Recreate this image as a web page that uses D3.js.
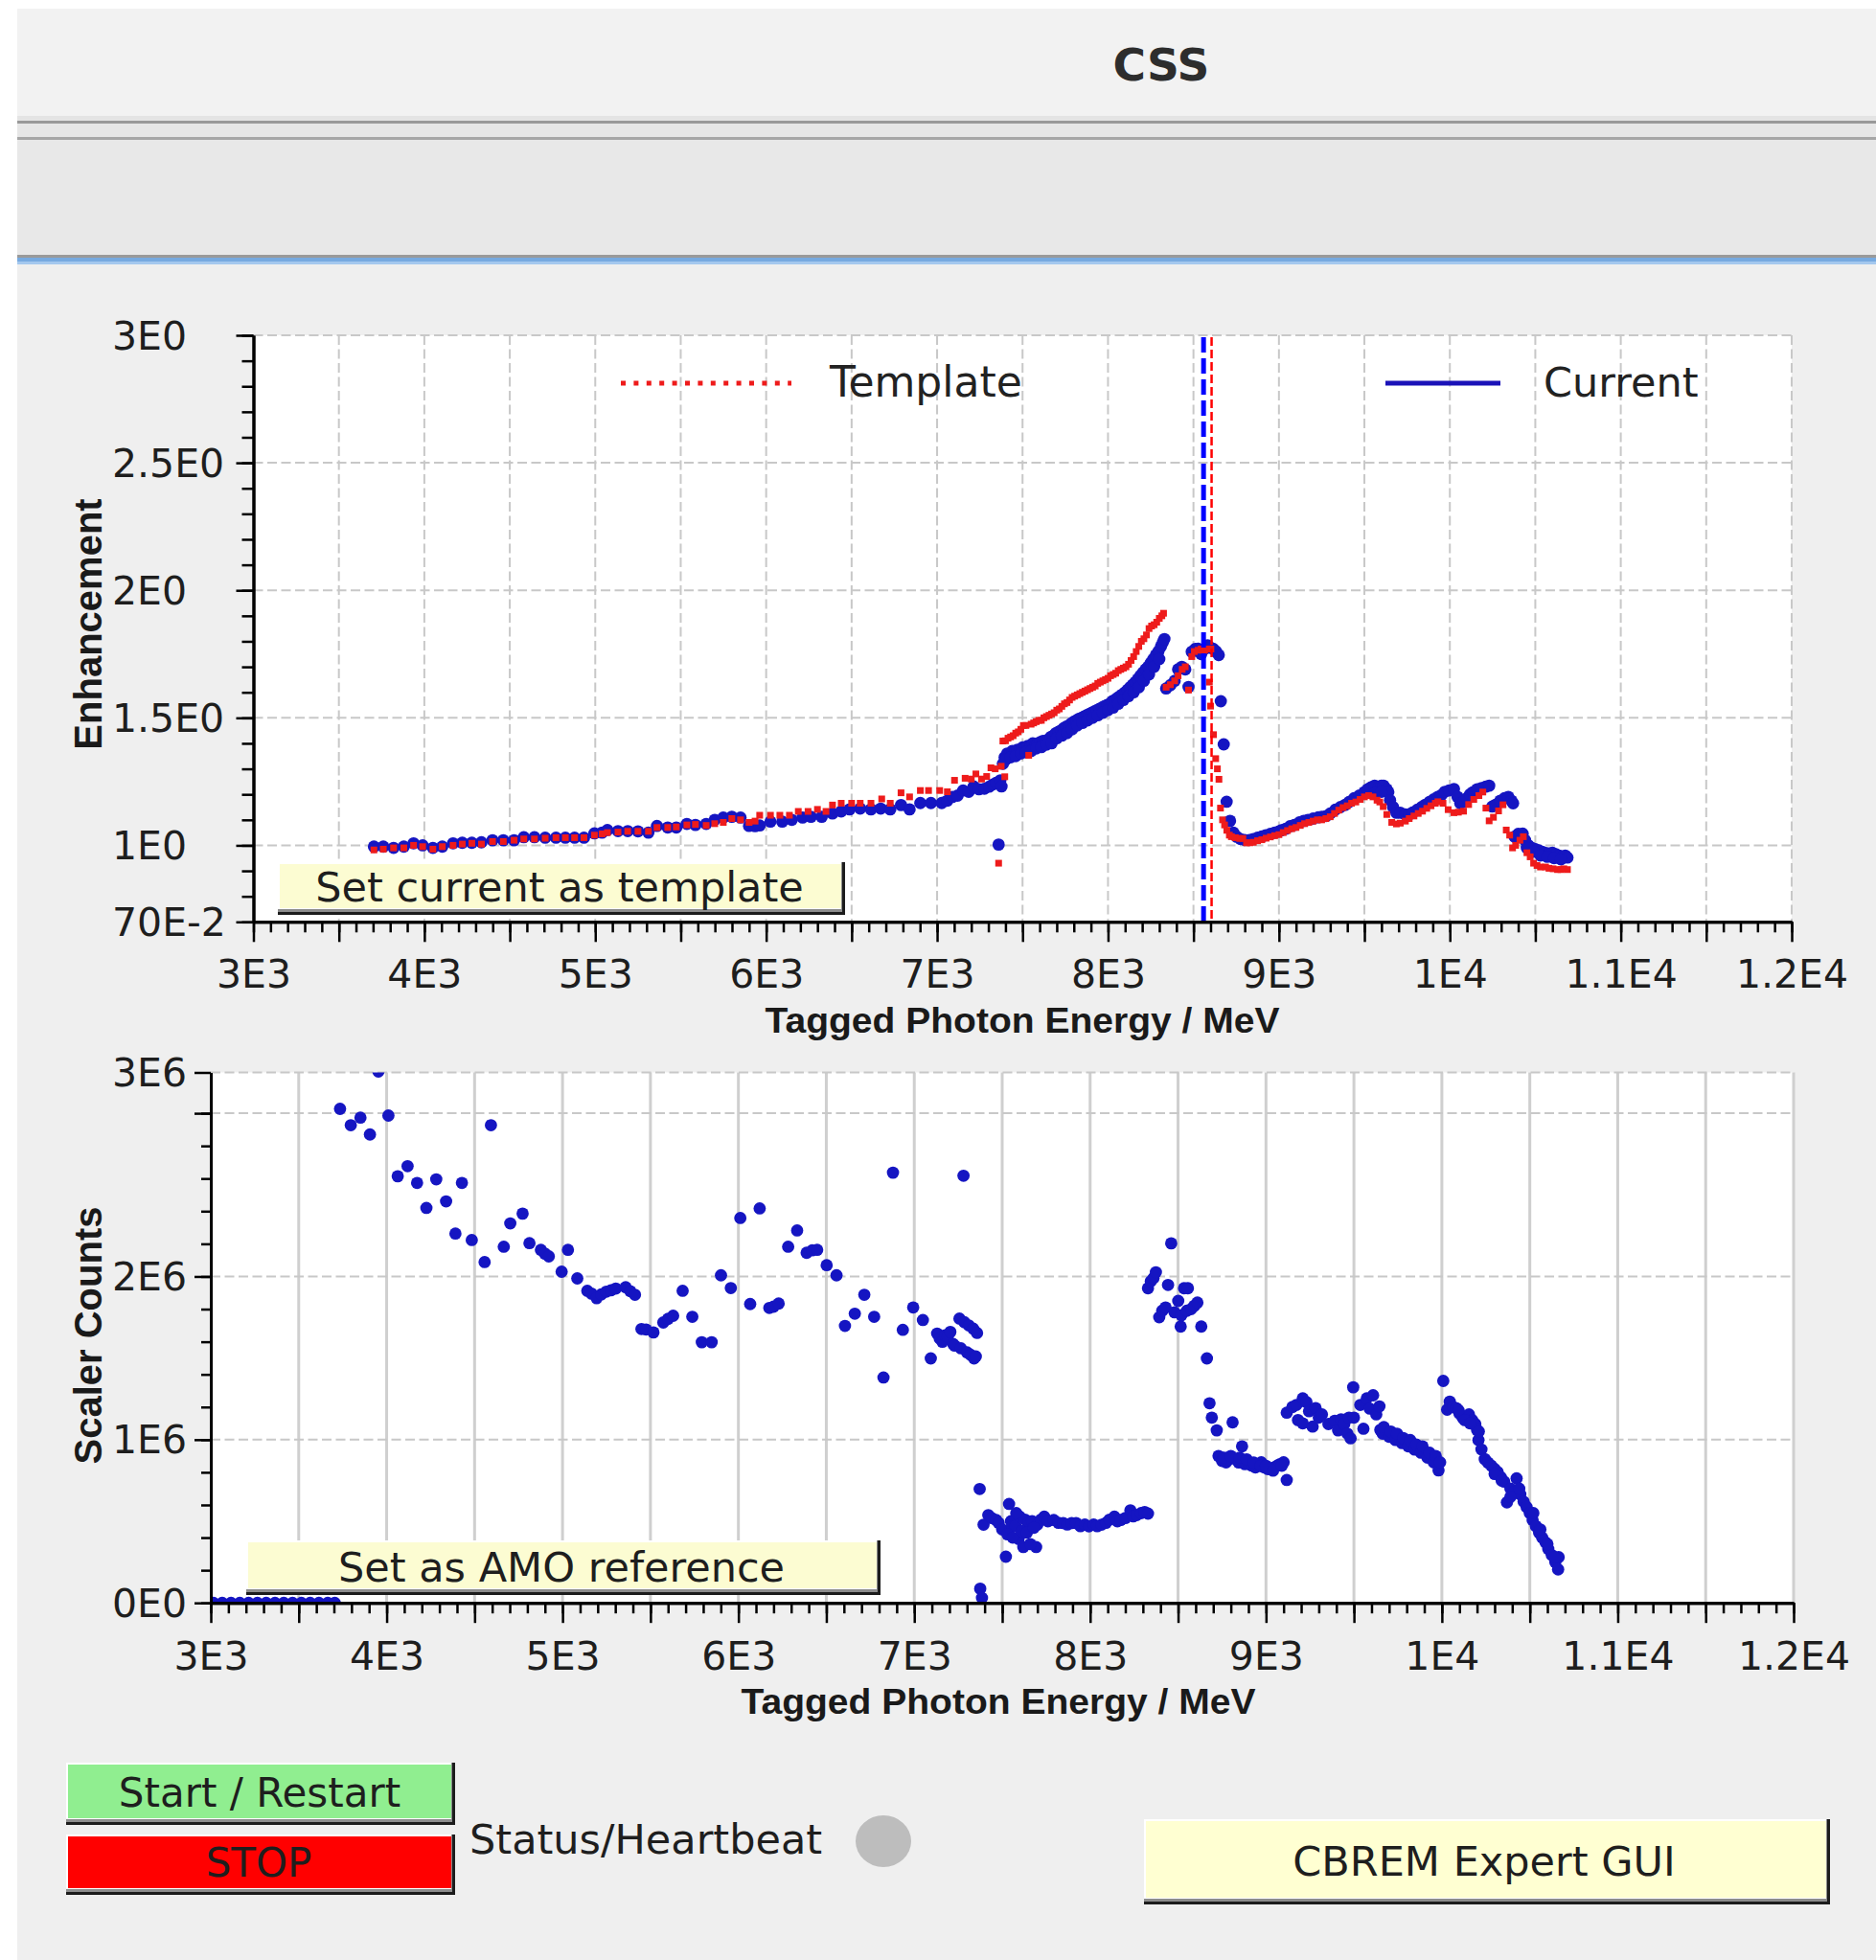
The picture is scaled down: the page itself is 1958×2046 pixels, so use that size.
<!DOCTYPE html>
<html><head><meta charset="utf-8">
<script src="https://cdn.jsdelivr.net/npm/d3@7"></script>
<style>
html,body{margin:0;padding:0;background:#efefef;}
svg{display:block;}
</style></head>
<body>
<svg id="c" width="1958" height="2046"></svg>
<script>
// ---------------- DATA ----------------
const xMajorTicks = [3000,3500,4000,4500,5000,5500,6000,6500,7000,7500,8000,8500,9000,9500,10000,10500,11000,11500,12000];
const xTickLabels = {3000:"3E3",4000:"4E3",5000:"5E3",6000:"6E3",7000:"7E3",8000:"8E3",9000:"9E3",10000:"1E4",11000:"1.1E4",12000:"1.2E4"};
const enhTicks = [0.7,1,1.5,2,2.5,3];
const enhTickLabels = ["70E-2","1E0","1.5E0","2E0","2.5E0","3E0"];
const enhGrid = [1,1.5,2,2.5,3];
const cntTicks = [0,1e6,2e6,3e6,3.25e6];
const cntTickLabels = ["0E0","1E6","2E6","","3E6"];
const cntGrid = [1e6,2e6,3e6,3.25e6];
const currentEdge = 8559;   // blue dashed vertical
const templateEdge = 8606;  // red dashed vertical

// Enhancement, current (blue) : [energy MeV, enhancement]
const currentPts = [
[3705,0.995],[3760,0.995],[3820,0.99],[3880,0.995],[3937,1.008],[3990,1.0],[4050,0.99],[4105,0.995],[4168,1.008],[4222,1.01],[4278,1.01],[4334,1.012],[4399,1.02],[4462,1.02],[4525,1.02],[4582,1.032],[4644,1.032],[4707,1.03],[4770,1.03],[4825,1.03],[4879,1.03],[4934,1.03],[4995,1.047],[5040,1.05],[5071,1.06],[5133,1.056],[5190,1.056],[5250,1.055],[5311,1.05],[5361,1.076],[5424,1.07],[5474,1.07],[5536,1.084],[5586,1.08],[5649,1.084],[5699,1.1],[5749,1.109],[5799,1.112],[5850,1.109],[5900,1.076],[5935,1.075],[5962,1.078],[6025,1.093],[6094,1.093],[6150,1.1],[6213,1.109],[6262,1.112],[6325,1.112],[6388,1.125],[6439,1.133],[6488,1.141],[6550,1.144],[6613,1.141],[6670,1.144],[6726,1.141],[6789,1.158],[6839,1.141],[6902,1.166],[6964,1.166],[7027,1.166],[7060,1.175],[7090,1.19],[7120,1.195],[7152,1.215],[7185,1.21],[7214,1.231],[7245,1.22],[7277,1.222],[7305,1.23],[7328,1.239],[7345,1.245],[7360,1.003],[7370,1.255],[7377,1.231],
[7385,1.32],[7395,1.345],[7410,1.36],[7425,1.355],[7440,1.37],[7455,1.365],[7470,1.375],[7485,1.37],[7500,1.384],[7515,1.38],[7530,1.39],[7545,1.385],[7560,1.40],[7575,1.39],[7590,1.40],[7605,1.405],[7620,1.41],[7635,1.405],[7650,1.415],[7665,1.425],[7680,1.43],[7695,1.44],[7710,1.445],[7725,1.45],[7740,1.459],[7755,1.465],[7770,1.47],[7785,1.478],[7800,1.485],[7815,1.49],[7830,1.496],[7845,1.50],[7860,1.505],[7875,1.51],[7890,1.515],[7905,1.52],[7920,1.525],[7935,1.53],[7950,1.535],[7965,1.54],[7980,1.546],[7995,1.55],[8010,1.555],[8025,1.565],[8040,1.57],[8055,1.578],[8070,1.585],[8085,1.592],[8100,1.60],[8115,1.61],[8130,1.62],[8145,1.63],[8160,1.64],[8175,1.652],[8190,1.665],[8205,1.678],[8220,1.69],[8235,1.70],[8250,1.715],[8265,1.73],[8280,1.746],[8295,1.76],[8310,1.78],[8320,1.795],[8330,1.809],
[7400,1.335],[7430,1.345],[7460,1.35],[7490,1.36],[7520,1.365],[7550,1.37],[7580,1.38],[7610,1.385],[7640,1.395],[7670,1.40],[7700,1.42],[7730,1.43],[7760,1.44],[7790,1.455],[7820,1.47],[7850,1.48],[7880,1.49],[7910,1.50],[7940,1.51],[7970,1.52],[8000,1.53],[8030,1.54],[8060,1.555],[8090,1.57],[8120,1.585],[8150,1.60],[8180,1.62],[8210,1.645],[8240,1.67],[8270,1.70],[8300,1.73],
[8340,1.615],[8365,1.628],[8390,1.645],[8410,1.69],[8432,1.70],[8452,1.69],[8471,1.621],[8490,1.759],[8510,1.77],[8527,1.771],[8545,1.75],[8565,1.77],[8583,1.784],[8600,1.775],[8617,1.77],[8632,1.76],[8648,1.746],[8660,1.565],[8677,1.396],[8694,1.171],[8714,1.096],[8733,1.05],[8752,1.034],
[8775,1.025],[8800,1.021],[8827,1.021],[8850,1.025],[8875,1.03],[8900,1.035],[8923,1.04],[8950,1.045],[8975,1.05],[9000,1.055],[9014,1.059],[9040,1.065],[9065,1.075],[9090,1.08],[9120,1.09],[9145,1.096],[9170,1.10],[9200,1.105],[9230,1.11],[9250,1.112],[9276,1.115],[9300,1.125],[9330,1.14],[9360,1.15],[9388,1.159],[9410,1.17],[9440,1.185],[9470,1.195],[9500,1.209],[9520,1.22],[9538,1.227],[9560,1.234],[9585,1.23],[9600,1.234],[9612,1.234],[9630,1.22],[9640,1.209],[9560,1.205],[9600,1.21],[9650,1.177],[9668,1.15],[9687,1.128],[9710,1.128],[9740,1.121],[9762,1.121],[9785,1.13],[9810,1.14],[9835,1.15],[9856,1.159],[9880,1.17],[9905,1.18],[9930,1.19],[9949,1.196],[9970,1.21],[9995,1.215],[10024,1.221],[10045,1.19],[10061,1.165],[10080,1.17],[10100,1.185],[10118,1.20],[10136,1.209],[10160,1.22],[10185,1.225],[10210,1.23],[10230,1.234],[10248,1.152],[10270,1.16],[10295,1.175],[10320,1.185],[10342,1.19],[10360,1.175],[10370,1.165],[10379,1.034],[10400,1.045],[10426,1.046],[10440,1.02],[10460,1.0],[10480,0.99],[10500,0.985],[10520,0.98],[10540,0.975],[10560,0.97],[10580,0.968],[10600,0.971],[10620,0.965],[10640,0.96],[10660,0.955],[10675,0.96],[10688,0.952],
[10450,0.99],[10490,0.975],[10530,0.96],[10570,0.955],[10610,0.95],[10650,0.945]
];

// Enhancement, template (red)
const templatePts = [
[3705,0.982],[3760,0.985],[3820,0.99],[3880,0.99],[3937,1.0],[3990,0.995],[4050,0.985],[4105,0.995],[4168,1.0],[4222,1.005],[4278,1.008],[4334,1.005],[4399,1.015],[4462,1.015],[4525,1.02],[4582,1.025],[4644,1.025],[4707,1.028],[4770,1.03],[4825,1.03],[4879,1.03],[4934,1.03],[4995,1.04],[5040,1.045],[5071,1.05],[5133,1.052],[5190,1.055],[5250,1.055],[5311,1.055],[5361,1.07],[5424,1.07],[5474,1.072],[5536,1.08],[5586,1.082],[5649,1.078],[5699,1.085],[5749,1.09],[5799,1.105],[5850,1.10],[5900,1.09],[5935,1.095],[5962,1.118],[6025,1.118],[6080,1.118],[6136,1.118],[6188,1.133],[6245,1.133],[6300,1.141],[6350,1.133],[6388,1.158],[6439,1.165],[6500,1.165],[6550,1.165],[6613,1.165],[6676,1.182],[6726,1.165],[6789,1.206],[6839,1.19],[6902,1.215],[6950,1.215],[7015,1.215],[7060,1.21],[7102,1.255],[7164,1.263],[7200,1.26],[7227,1.28],[7260,1.26],[7290,1.27],[7315,1.304],[7340,1.30],[7360,0.93],[7375,1.31],[7396,1.269],
[7385,1.409],[7400,1.41],[7415,1.42],[7430,1.425],[7445,1.43],[7460,1.44],[7475,1.445],[7490,1.455],[7505,1.47],[7520,1.47],[7536,1.353],[7550,1.475],[7565,1.48],[7580,1.485],[7595,1.49],[7610,1.49],[7625,1.50],[7640,1.505],[7655,1.51],[7670,1.515],[7685,1.52],[7700,1.53],[7715,1.535],[7730,1.545],[7745,1.555],[7760,1.56],[7775,1.57],[7790,1.58],[7805,1.585],[7820,1.59],[7835,1.595],[7850,1.60],[7865,1.605],[7880,1.61],[7895,1.615],[7910,1.62],[7925,1.625],[7940,1.635],[7955,1.64],[7970,1.645],[7985,1.65],[8000,1.655],[8015,1.665],[8030,1.67],[8045,1.675],[8060,1.685],[8075,1.69],[8090,1.695],[8105,1.70],[8120,1.71],[8135,1.725],[8150,1.74],[8165,1.76],[8180,1.78],[8195,1.80],[8210,1.81],[8225,1.825],[8240,1.85],[8255,1.86],[8270,1.865],[8285,1.875],[8300,1.89],[8315,1.90],[8325,1.91],
[8340,1.62],[8365,1.63],[8390,1.645],[8410,1.665],[8434,1.69],[8452,1.70],[8471,1.609],[8490,1.74],[8505,1.76],[8527,1.765],[8545,1.77],[8565,1.765],[8583,1.77],[8602,1.77],[8593,1.64],[8600,1.546],[8617,1.434],[8630,1.34],[8640,1.30],[8649,1.259],[8658,1.146],[8670,1.10],[8682,1.08],[8695,1.059],[8710,1.04],[8722,1.034],[8745,1.03],[8770,1.027],[8789,1.027],
[8810,1.01],[8830,1.01],[8850,1.012],[8875,1.018],[8900,1.022],[8925,1.028],[8950,1.033],[8975,1.038],[9000,1.042],[9025,1.05],[9050,1.058],[9075,1.065],[9100,1.07],[9125,1.078],[9150,1.085],[9175,1.09],[9200,1.095],[9225,1.10],[9250,1.10],[9275,1.105],[9300,1.112],[9325,1.125],[9350,1.138],[9375,1.148],[9400,1.155],[9425,1.165],[9450,1.17],[9475,1.18],[9500,1.19],[9525,1.195],[9550,1.19],[9574,1.177],[9590,1.17],[9610,1.152],[9631,1.121],[9660,1.09],[9687,1.084],[9710,1.087],[9740,1.095],[9762,1.105],[9790,1.115],[9815,1.125],[9840,1.134],[9865,1.145],[9890,1.155],[9915,1.165],[9930,1.171],[9960,1.165],[9990,1.14],[10024,1.128],[10050,1.13],[10080,1.134],[10110,1.16],[10140,1.18],[10170,1.195],[10193,1.209],[10211,1.146],[10230,1.096],[10255,1.11],[10285,1.135],[10311,1.159],[10330,1.06],[10350,1.04],[10367,0.99],[10385,1.0],[10410,1.02],[10430,1.034],[10451,0.971],[10470,0.955],[10490,0.93],[10510,0.921],[10530,0.915],[10560,0.915],[10580,0.91],[10604,0.908],[10630,0.905],[10650,0.905],[10667,0.908],[10688,0.905]
];

// Scaler counts (millions) : [energy MeV, counts/1e6]
const scalerPts = [
[3015,0],[3065,0],[3115,0],[3165,0],[3215,0],[3265,0],[3315,0],[3365,0],[3415,0],[3465,0],[3515,0],[3565,0],[3615,0],[3665,0],[3705,0],
[3735,3.027],[3796,2.927],[3851,2.973],[3905,2.87],[3953,3.256],[4010,2.986],[4063,2.614],[4119,2.676],[4173,2.573],[4226,2.42],[4282,2.595],[4338,2.46],[4391,2.263],[4428,2.573],[4484,2.223],[4557,2.088],[4593,2.927],[4666,2.182],[4703,2.325],[4773,2.385],[4812,2.204],[4877,2.163],[4900,2.14],[4922,2.123],[4995,2.029],[5031,2.163],[5084,1.988],[5141,1.912],[5165,1.895],[5194,1.867],[5220,1.89],[5249,1.907],[5275,1.915],[5303,1.926],[5359,1.934],[5385,1.91],[5412,1.888],[5449,1.678],[5475,1.675],[5517,1.657],[5573,1.718],[5600,1.74],[5629,1.759],[5683,1.912],[5738,1.753],[5792,1.597],[5848,1.597],[5901,2.007],[5957,1.929],[6011,2.358],[6067,1.831],[6121,2.417],[6176,1.807],[6200,1.815],[6229,1.834],[6283,2.182],[6334,2.282],[6388,2.145],[6420,2.16],[6448,2.163],[6502,2.069],[6558,2.007],[6606,1.697],[6662,1.772],[6716,1.888],[6772,1.753],[6825,1.381],[6879,2.636],[6935,1.673],[6994,1.81],[7049,1.733],[7094,1.498],[7130,1.65],[7145,1.62],[7160,1.60],[7175,1.64],[7190,1.63],[7205,1.66],[7221,1.586],[7230,1.576],[7257,1.742],[7265,1.56],[7280,2.617],[7285,1.72],[7300,1.535],[7310,1.70],[7320,1.52],[7335,1.68],[7340,1.498],[7350,1.51],[7357,1.654],
[7372,0.698],[7375,0.087],[7385,0.03],
[7394,0.479],[7421,0.538],[7440,0.52],[7466,0.508],[7480,0.49],[7500,0.45],[7521,0.283],[7539,0.606],[7550,0.50],[7557,0.469],[7575,0.47],[7593,0.391],[7600,0.528],[7620,0.342],[7630,0.51],[7650,0.49],[7670,0.50],[7693,0.342],[7700,0.48],[7720,0.51],[7739,0.528],[7760,0.50],[7793,0.508],[7820,0.49],[7847,0.489],[7870,0.48],[7895,0.489],[7920,0.489],[7945,0.47],[7970,0.48],[7993,0.469],[8020,0.48],[8040,0.47],[8065,0.479],[8090,0.49],[8110,0.51],[8138,0.528],[8155,0.50],[8174,0.508],[8200,0.52],[8229,0.567],[8245,0.53],[8265,0.538],[8290,0.55],[8310,0.557],[8329,0.547],
[7530,0.42],[7560,0.40],[7580,0.55],[7610,0.44],[7640,0.43],[7660,0.36],[7680,0.46],
[8329,1.928],[8345,1.97],[8360,1.99],[8374,2.026],[8393,1.75],[8410,1.79],[8429,1.81],[8443,1.948],[8461,2.203],[8480,1.78],[8501,1.85],[8515,1.693],[8519,1.762],[8534,1.928],[8550,1.79],[8556,1.928],[8574,1.80],[8592,1.82],[8610,1.84],[8632,1.693],[8664,1.498],[8679,1.223],[8692,1.135],[8720,1.057],
[8730,0.90],[8750,0.87],[8773,0.861],[8790,0.88],[8810,1.106],[8828,0.881],[8845,0.86],[8864,0.959],[8880,0.85],[8900,0.86],[8919,0.841],[8940,0.83],[8955,0.85],[8973,0.861],[8990,0.83],[9010,0.82],[9028,0.822],[9045,0.83],[9064,0.841],[9080,0.85],[9100,0.861],[9118,0.753],
[8760,0.89],[8800,0.90],[8850,0.89],[8890,0.88],[8930,0.86],[8970,0.84],[9000,0.84],[9040,0.81],[9090,0.84],
[9118,1.165],[9150,1.20],[9173,1.213],[9182,1.12],[9209,1.253],[9209,1.10],[9230,1.23],[9245,1.174],[9265,1.08],[9282,1.194],[9300,1.135],[9318,1.155],[9355,1.096],[9391,1.116],[9410,1.057],[9427,1.125],[9445,1.096],[9463,1.037],[9472,1.135],[9481,1.008],[9500,1.135],
[9496,1.321],[9536,1.213],[9554,1.067],[9573,1.253],[9590,1.19],[9609,1.272],[9627,1.155],[9645,1.204],
[9650,1.06],[9663,1.037],[9670,1.077],[9700,1.018],[9710,1.05],[9736,0.998],[9745,1.037],[9773,0.979],[9780,1.01],[9809,0.959],[9820,0.998],[9845,0.939],[9855,0.97],[9881,0.92],[9890,0.959],[9918,0.89],[9930,0.92],[9954,0.861],[9965,0.90],[9981,0.812],[9990,0.861],
[10008,1.36],[10030,1.184],[10045,1.233],[10063,1.20],[10081,1.194],[10100,1.16],[10118,1.135],[10136,1.14],[10154,1.155],[10172,1.12],[10190,1.096],[10200,1.06],[10208,0.998],[10225,0.94],[10244,0.881],[10262,0.86],[10281,0.841],[10300,0.82],[10317,0.802],[10335,0.77],[10354,0.743],[10370,0.616],[10390,0.70],[10410,0.68],[10425,0.763],[10446,0.665],[10465,0.62],[10482,0.587],[10500,0.55],[10516,0.508],[10535,0.47],[10553,0.43],[10570,0.40],[10589,0.371],[10605,0.33],[10625,0.293],[10645,0.25],[10661,0.205],[10664,0.28],
[10095,1.18],[10130,1.12],[10160,1.10],[10210,1.05],[10300,0.79],[10340,0.75],[10390,0.65],[10440,0.70],[10520,0.55],[10560,0.45],[10600,0.36],[10640,0.28]
];

// ---------------- DRAW ----------------
const W = 1958, H = 2046;
const svg = d3.select("#c");
const FONT = "'DejaVu Sans', sans-serif";
const BOLD = "'Liberation Sans', Arial, sans-serif";
const BLUE = "#1515c2", RED = "#ee1b1b";
const TXT = 43;

svg.append("rect").attr("width", W).attr("height", H).attr("fill", "#efefef");
svg.append("rect").attr("x", 0).attr("y", 0).attr("width", 18).attr("height", H).attr("fill", "#ffffff");
svg.append("rect").attr("x", 0).attr("y", 0).attr("width", W).attr("height", 9).attr("fill", "#ffffff");
const hdr = [
  [9, 112, "#f2f2f2"], [121, 5, "#e4e4e4"], [126, 3, "#999999"], [129, 14, "#e6e6e6"],
  [143, 3, "#a6a6a6"], [146, 120, "#e8e8e8"], [266, 3, "#9a9a9a"], [269, 4, "#77aae0"], [273, 3, "#a4c8ee"]
];
hdr.forEach(([y, h, c]) => svg.append("rect").attr("x", 18).attr("y", y).attr("width", W - 18).attr("height", h).attr("fill", c));
svg.append("text").attr("x", 1212).attr("y", 84).attr("text-anchor", "middle")
  .attr("font-family", "'DejaVu Sans', sans-serif").attr("font-weight", "bold").attr("font-size", 47)
  .attr("fill", "#2d2d2d").text("CSS");

function button(x, y, w, h, face, label, tx, ty, fs) {
  const g = svg.append("g");
  g.append("rect").attr("x", x).attr("y", y).attr("width", w).attr("height", h).attr("fill", "#1c1c1c");
  g.append("rect").attr("x", x).attr("y", y).attr("width", w - 3).attr("height", h - 3).attr("fill", "#8c8c8c");
  g.append("rect").attr("x", x).attr("y", y).attr("width", w - 4).attr("height", h - 6).attr("fill", "#ffffff");
  g.append("rect").attr("x", x + 2).attr("y", y + 2).attr("width", w - 6).attr("height", h - 9).attr("fill", face);
  if (label) g.append("text").attr("x", tx).attr("y", ty).attr("text-anchor", "middle")
    .attr("font-family", FONT).attr("font-size", fs || TXT).attr("fill", "#1e1e1e").text(label);
}

// ---------- TOP CHART ----------
const xT = d3.scaleLinear().domain([3000, 12000]).range([264.5, 1870]);
const yT = d3.scaleLinear().domain([0.7, 3]).range([962.3, 350]);
const topG = svg.append("g");
topG.append("rect").attr("x", xT(3000)).attr("y", yT(3)).attr("width", xT(12000) - xT(3000))
  .attr("height", yT(0.7) - yT(3)).attr("fill", "#ffffff");
topG.selectAll(".vg").data(xMajorTicks.filter(d => d > 3000)).join("line")
  .attr("x1", d => xT(d)).attr("x2", d => xT(d)).attr("y1", yT(3)).attr("y2", yT(0.7))
  .attr("stroke", "#c8c8c8").attr("stroke-width", 2).attr("stroke-dasharray", "10,4.5");
topG.selectAll(".hg").data(enhGrid).join("line")
  .attr("x1", xT(3000)).attr("x2", xT(12000)).attr("y1", d => yT(d)).attr("y2", d => yT(d))
  .attr("stroke", "#c8c8c8").attr("stroke-width", 2).attr("stroke-dasharray", "10,4.5");

button(290, 900, 592, 55, "#fcfcd2", "Set current as template", 584, 941);

topG.append("g").selectAll("circle").data(currentPts).join("circle")
  .attr("cx", d => xT(d[0])).attr("cy", d => yT(d[1])).attr("r", 6.4).attr("fill", BLUE);
topG.append("g").selectAll("rect").data(templatePts).join("rect")
  .attr("x", d => xT(d[0]) - 3.5).attr("y", d => yT(d[1]) - 3.5).attr("width", 7).attr("height", 7).attr("fill", RED);

topG.append("line").attr("x1", xT(currentEdge)).attr("x2", xT(currentEdge)).attr("y1", yT(3) + 2).attr("y2", yT(0.7))
  .attr("stroke", "#0000ff").attr("stroke-width", 5).attr("stroke-dasharray", "16,6");
topG.append("line").attr("x1", xT(templateEdge)).attr("x2", xT(templateEdge)).attr("y1", yT(3) + 2).attr("y2", yT(0.7))
  .attr("stroke", "#ff0000").attr("stroke-width", 2.5).attr("stroke-dasharray", "9,4");

topG.append("line").attr("x1", 648).attr("x2", 826).attr("y1", 400).attr("y2", 400)
  .attr("stroke", RED).attr("stroke-width", 5).attr("stroke-dasharray", "5,8.4");
topG.append("text").attr("x", 866).attr("y", 414).attr("font-family", FONT).attr("font-size", TXT + 1)
  .attr("fill", "#222").text("Template");
topG.append("line").attr("x1", 1446).attr("x2", 1566).attr("y1", 400).attr("y2", 400)
  .attr("stroke", "#1a12b8").attr("stroke-width", 5);
topG.append("text").attr("x", 1611).attr("y", 414).attr("font-family", FONT).attr("font-size", TXT)
  .attr("fill", "#222").text("Current");

function styleAxis(g) {
  g.selectAll("path.domain").attr("stroke", "#000").attr("stroke-width", 3);
  g.selectAll(".tick line").attr("stroke", "#000").attr("stroke-width", 2.5);
  g.selectAll(".tick text").attr("font-family", FONT).attr("font-size", 41).attr("fill", "#1e1e1e");
}
const xMinorTicks = d3.range(3000, 12001, 100);
styleAxis(topG.append("g").attr("transform", `translate(0,${yT(0.7)})`)
  .call(d3.axisBottom(xT).tickValues(xMinorTicks).tickSize(11).tickSizeOuter(0).tickFormat("")));
styleAxis(topG.append("g").attr("transform", `translate(0,${yT(0.7)})`)
  .call(d3.axisBottom(xT).tickValues(xMajorTicks).tickSize(21).tickSizeOuter(0).tickPadding(19)
    .tickFormat(d => xTickLabels[d] || "")));
const enhMinor = d3.range(7, 31).map(d => d / 10);
styleAxis(topG.append("g").attr("transform", `translate(${xT(3000)},0)`)
  .call(d3.axisLeft(yT).tickValues(enhMinor).tickSize(12).tickSizeOuter(0).tickFormat("")));
styleAxis(topG.append("g").attr("transform", `translate(${xT(3000)},0)`)
  .call(d3.axisLeft(yT).tickValues(enhTicks).tickSize(18).tickSizeOuter(0).tickFormat("")));
topG.selectAll(".ylab").data(enhTicks).join("text")
  .attr("x", 117).attr("y", d => yT(d) + 14.5).attr("font-family", FONT).attr("font-size", 41)
  .attr("fill", "#1e1e1e").text((d, i) => enhTickLabels[i]);

topG.append("text").attr("x", 1067).attr("y", 1078).attr("text-anchor", "middle")
  .attr("font-family", BOLD).attr("font-weight", "bold").attr("font-size", 37)
  .attr("textLength", 537).attr("lengthAdjust", "spacingAndGlyphs").attr("fill", "#1a1a1a")
  .text("Tagged Photon Energy / MeV");
topG.append("text").attr("transform", "translate(106,651.5) rotate(-90)").attr("text-anchor", "middle")
  .attr("font-family", BOLD).attr("font-weight", "bold").attr("font-size", 40).attr("fill", "#1a1a1a")
  .text("Enhancement");

// ---------- BOTTOM CHART ----------
const xB = d3.scaleLinear().domain([3000, 12000]).range([220, 1872]);
const yB = d3.scaleLinear().domain([0, 3.25e6]).range([1673.2, 1119.5]);
const botG = svg.append("g");
botG.append("rect").attr("x", xB(3000)).attr("y", yB(3.25e6)).attr("width", xB(12000) - xB(3000))
  .attr("height", yB(0) - yB(3.25e6)).attr("fill", "#ffffff");
botG.selectAll(".vg").data(xMajorTicks.filter(d => d > 3000)).join("line")
  .attr("x1", d => xB(d)).attr("x2", d => xB(d)).attr("y1", yB(3.25e6)).attr("y2", yB(0))
  .attr("stroke", "#cfcfcf").attr("stroke-width", 3);
botG.selectAll(".hg").data(cntGrid).join("line")
  .attr("x1", xB(3000)).attr("x2", xB(12000)).attr("y1", d => yB(d)).attr("y2", d => yB(d))
  .attr("stroke", "#c8c8c8").attr("stroke-width", 2).attr("stroke-dasharray", "10,4.5");

button(257, 1608, 662, 57, "#fcfcd2", "Set as AMO reference", 586, 1651);

svg.append("clipPath").attr("id", "botclip").append("rect")
  .attr("x", xB(3000)).attr("y", yB(3.25e6)).attr("width", xB(12000) - xB(3000)).attr("height", yB(0) - yB(3.25e6));
botG.append("g").attr("clip-path", "url(#botclip)").selectAll("circle").data(scalerPts).join("circle")
  .attr("cx", d => xB(d[0])).attr("cy", d => yB(d[1] * 1e6)).attr("r", 6.4).attr("fill", BLUE);

styleAxis(botG.append("g").attr("transform", `translate(0,${yB(0)})`)
  .call(d3.axisBottom(xB).tickValues(xMinorTicks).tickSize(11).tickSizeOuter(0).tickFormat("")));
styleAxis(botG.append("g").attr("transform", `translate(0,${yB(0)})`)
  .call(d3.axisBottom(xB).tickValues(xMajorTicks).tickSize(21).tickSizeOuter(0).tickPadding(20)
    .tickFormat(d => xTickLabels[d] || "")));
const cntMinor = d3.range(0, 31, 2).map(d => d * 1e5);
styleAxis(botG.append("g").attr("transform", `translate(${xB(3000)},0)`)
  .call(d3.axisLeft(yB).tickValues(cntMinor).tickSize(10).tickSizeOuter(0).tickFormat("")));
styleAxis(botG.append("g").attr("transform", `translate(${xB(3000)},0)`)
  .call(d3.axisLeft(yB).tickValues(cntTicks).tickSize(17).tickSizeOuter(0).tickFormat("")));
botG.selectAll(".ylab").data(cntTicks).join("text")
  .attr("x", 117).attr("y", d => yB(d) + 14.5).attr("font-family", FONT).attr("font-size", 41)
  .attr("fill", "#1e1e1e").text((d, i) => cntTickLabels[i]);

botG.append("text").attr("x", 1042).attr("y", 1789).attr("text-anchor", "middle")
  .attr("font-family", BOLD).attr("font-weight", "bold").attr("font-size", 37)
  .attr("textLength", 537).attr("lengthAdjust", "spacingAndGlyphs").attr("fill", "#1a1a1a")
  .text("Tagged Photon Energy / MeV");
botG.append("text").attr("transform", "translate(106,1394) rotate(-90)").attr("text-anchor", "middle")
  .attr("font-family", BOLD).attr("font-weight", "bold").attr("font-size", 40).attr("fill", "#1a1a1a")
  .text("Scaler Counts");

// ---------- CONTROLS ----------
button(69, 1840, 406, 65, "#90ee90", "Start / Restart", 271, 1886, 42);
button(69, 1915, 406, 63, "#ff0000", "STOP", 270, 1959, 42);
svg.append("text").attr("x", 490).attr("y", 1935).attr("font-family", FONT).attr("font-size", TXT)
  .attr("fill", "#1e1e1e").text("Status/Heartbeat");
svg.append("ellipse").attr("cx", 922).attr("cy", 1922).attr("rx", 29).attr("ry", 27).attr("fill", "#bdbdbd");
button(1194, 1899, 716, 89, "#ffffd2", "CBREM Expert GUI", 1549, 1958);
</script>
</body></html>
